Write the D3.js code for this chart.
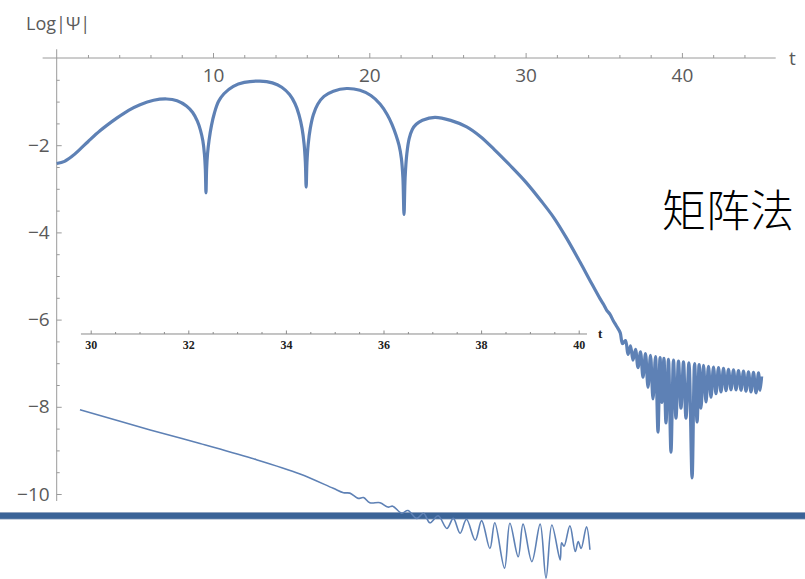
<!DOCTYPE html>
<html><head><meta charset="utf-8">
<script src="https://cdn.jsdelivr.net/npm/d3@7"></script>
<style>body{margin:0;background:#fff}svg{display:block}</style>
</head><body><svg id="c" width="805" height="579"></svg>
<script>
// ---- data ----
const mainT = [0,0.5,1.0,1.5,2.0,2.77,3.84,4.6,5.33,6.2,7.04,7.7,8.3,8.7,9.0,9.2,9.35,9.45,9.51,9.55,9.59,9.65,9.75,9.9,10.1,10.35,10.7,11.3,12.0,13.0,13.8,14.4,14.9,15.25,15.5,15.7,15.83,15.91,15.96,16.01,16.09,16.22,16.42,16.7,17.1,17.7,18.55,19.4,20.1,20.7,21.15,21.45,21.7,21.9,22.05,22.15,22.22,22.29,22.4,22.55,22.75,23.0,23.4,24.2,25.2,26.23,27.1,28.0,29.0,30.0,31.0,31.8,32.6,33.48,34.1,34.76,35.0,35.18,35.4,35.6,35.8,
  36.05,36.2,36.39,36.55,36.71,36.87,37.03,37.19,37.35,37.51,37.67,37.83,37.99,38.15,38.31,38.47,38.6,38.72,38.85,38.98,39.14,39.3,39.46,39.62,39.78,39.94,40.1,40.26,40.45,40.65,40.81,40.97,41.1,41.22,41.38,41.54,41.7,41.86,42.02,42.18,42.34,42.5,42.66,42.82,42.98,43.14,43.3,43.46,43.62,43.78,43.94,44.1,44.26,44.42,44.58,44.74,44.9,45.0,45.1];
const mainLogPsi = [-2.42,-2.37,-2.25,-2.09,-1.92,-1.67,-1.38,-1.2,-1.07,-0.97,-0.94,-0.98,-1.1,-1.25,-1.45,-1.66,-1.9,-2.2,-2.55,-3.09,-2.55,-2.2,-1.88,-1.55,-1.25,-1.0,-0.82,-0.65,-0.56,-0.53,-0.57,-0.67,-0.84,-1.05,-1.3,-1.62,-1.98,-2.4,-2.96,-2.4,-1.98,-1.62,-1.3,-1.06,-0.88,-0.76,-0.7,-0.74,-0.86,-1.06,-1.3,-1.52,-1.76,-2.0,-2.3,-2.75,-3.59,-2.75,-2.2,-1.85,-1.64,-1.52,-1.43,-1.36,-1.43,-1.58,-1.8,-2.1,-2.46,-2.84,-3.28,-3.66,-4.12,-4.68,-5.09,-5.52,-5.66,-5.78,-5.88,-6.02,-6.14,
  -6.3,-6.55,-6.48,-6.8,-6.6,-6.93,-6.68,-7.1,-6.74,-7.32,-6.78,-7.55,-6.82,-7.82,-6.85,-8.58,-6.87,-7.9,-6.89,-8.37,-6.91,-9.04,-6.93,-8.26,-6.95,-8.03,-6.97,-8.26,-6.99,-9.63,-7.01,-8.35,-7.03,-8.03,-7.05,-7.89,-7.07,-7.78,-7.09,-7.70,-7.1,-7.66,-7.12,-7.63,-7.14,-7.61,-7.15,-7.61,-7.17,-7.62,-7.18,-7.64,-7.2,-7.66,-7.21,-7.68,-7.22,-7.62,-7.3];
const insetT = [29.78,31.22,32.24,33.3,34.29,34.97,35.18,35.31,35.48,35.59,35.72,35.93,36.09,36.19,36.37,36.50,36.68,36.82,36.95,37.12,37.30,37.43,37.57,37.70,37.88,38.01,38.18,38.28,38.48,38.59,38.76,38.86,39.04,39.21,39.33,39.45,39.62,39.65,39.70,39.82,39.93,39.99,40.05,40.16,40.23];
const insetLogPsi = [-8.07,-8.53,-8.84,-9.18,-9.54,-9.87,-9.97,-9.98,-10.10,-10.08,-10.20,-10.20,-10.30,-10.28,-10.44,-10.38,-10.56,-10.44,-10.66,-10.50,-10.79,-10.56,-10.90,-10.58,-11.06,-10.61,-11.25,-10.66,-11.70,-10.67,-11.44,-10.69,-11.55,-10.69,-11.93,-10.71,-11.51,-11.12,-11.2,-10.73,-11.32,-11.09,-11.25,-10.75,-11.28];
const xMajorTicks = [10,20,30,40];
const xMinorTicks = [2,4,6,8,12,14,16,18,22,24,26,28,32,34,36,38,42,44];
const yMajorTicks = [-2,-4,-6,-8,-10];
const yMinorTicks = [-0.5,-1,-1.5,-2.5,-3,-3.5,-4.5,-5,-5.5,-6.5,-7,-7.5,-8.5,-9,-9.5];
const insetMajorTicks = [30,32,34,36,38,40];
const insetMinorTicks = [30.5,31,31.5,32.5,33,33.5,34.5,35,35.5,36.5,37,37.5,38.5,39,39.5];
const separatorLevel = -10.5;
const yLabel = "Log|Ψ|", xLabel = "t", methodLabel = "矩阵法";

// ---- drawing ----
const svg = d3.select("#c");
const x = d3.scaleLinear().domain([0,46]).range([56.7,775.7]);
const y = d3.scaleLinear().domain([0,-10.5]).range([58,515.8]);
const xi = d3.scaleLinear().domain([30,40]).range([90.7,578.7]);
const lineColor = "#5e81b5", axisColor = "#9a9a9a", labelColor = "#5a5a5a";
const sans = "'Open Sans','Noto Sans',sans-serif";

// main axes lines
svg.append("line").attr("x1",x(-0.9)).attr("x2",x(46)).attr("y1",y(0)).attr("y2",y(0)).attr("stroke",axisColor);
svg.append("line").attr("x1",x(0)).attr("x2",x(0)).attr("y1",y(0.2)).attr("y2",y(-10.16)).attr("stroke",axisColor);

const gx = svg.append("g").attr("transform",`translate(0,${y(0)})`)
  .call(d3.axisBottom(x).tickValues(xMajorTicks).tickSizeInner(-5).tickSizeOuter(0).tickPadding(11).tickFormat(d3.format("d")));
svg.append("g").attr("transform",`translate(0,${y(0)})`)
  .call(d3.axisBottom(x).tickValues(xMinorTicks).tickSizeInner(-3).tickSizeOuter(0).tickFormat(""));
const gy = svg.append("g").attr("transform",`translate(${x(0)},0)`)
  .call(d3.axisLeft(y).tickValues(yMajorTicks).tickSizeInner(-5).tickSizeOuter(0).tickPadding(7).tickFormat(d3.format("d")));
svg.append("g").attr("transform",`translate(${x(0)},0)`)
  .call(d3.axisLeft(y).tickValues(yMinorTicks).tickSizeInner(-3).tickSizeOuter(0).tickFormat(""));
svg.selectAll(".domain").remove();
svg.selectAll(".tick line").attr("stroke",axisColor);
svg.selectAll(".tick text").attr("fill",labelColor).style("font-family",sans).style("font-size","19px");

svg.append("text").attr("x",26).attr("y",30).text(yLabel).attr("fill",labelColor).style("font-family",sans).style("font-size","18px");
svg.append("text").attr("x",789).attr("y",65).text(xLabel).attr("fill",labelColor).style("font-family",sans).style("font-size","19px");

// main curve
const pts = mainT.map((t,i)=>[t,mainLogPsi[i]]);
svg.append("path").datum(pts)
  .attr("d",d3.line().x(d=>x(d[0])).y(d=>y(d[1])).curve(d3.curveCatmullRom.alpha(0.5)))
  .attr("fill","none").attr("stroke",lineColor).attr("stroke-width",3.2).attr("stroke-linejoin","round");

// inset axis
const iy = y(-6.33);
svg.append("line").attr("x1",xi(29.8)).attr("x2",xi(40.17)).attr("y1",iy).attr("y2",iy).attr("stroke","#8a8a8a").attr("stroke-width",1);
const gi = svg.append("g").attr("transform",`translate(0,${iy})`)
  .call(d3.axisBottom(xi).tickValues(insetMajorTicks).tickSizeInner(-3.5).tickSizeOuter(0).tickPadding(6).tickFormat(d3.format("d")));
const gim = svg.append("g").attr("transform",`translate(0,${iy})`)
  .call(d3.axisBottom(xi).tickValues(insetMinorTicks).tickSizeInner(-2).tickSizeOuter(0).tickFormat(""));
svg.selectAll(".domain").remove();
gi.selectAll("text").attr("fill","#222").style("font-family","'Liberation Serif',serif").style("font-weight","bold").style("font-size","12px");
gi.selectAll(".tick line").attr("stroke","#8a8a8a");
gim.selectAll(".tick line").attr("stroke","#8a8a8a");
svg.append("text").attr("x",598).attr("y",338).text(xLabel).attr("fill","#222").style("font-family","'Liberation Serif',serif").style("font-weight","bold").style("font-size","13px");

// separator
svg.append("line").attr("x1",0).attr("x2",805).attr("y1",y(separatorLevel)).attr("y2",y(separatorLevel)).attr("stroke","#8fa3c0").attr("stroke-width",7.5);
svg.append("line").attr("x1",0).attr("x2",805).attr("y1",y(separatorLevel)).attr("y2",y(separatorLevel)).attr("stroke","#3a6397").attr("stroke-width",5.8);

// inset curve
const ipts = insetT.map((t,i)=>[t,insetLogPsi[i]]);
svg.append("path").datum(ipts)
  .attr("d",d3.line().x(d=>xi(d[0])).y(d=>y(d[1])).curve(d3.curveCatmullRom.alpha(0.5)))
  .attr("fill","none").attr("stroke",lineColor).attr("stroke-width",1.6).attr("stroke-linejoin","round");

// method label
svg.append("text").attr("x",662).attr("y",227).text(methodLabel).attr("fill","#000").style("font-family","'Noto Sans CJK SC',sans-serif").style("font-weight","300").style("font-size","44px");
</script></body></html>
